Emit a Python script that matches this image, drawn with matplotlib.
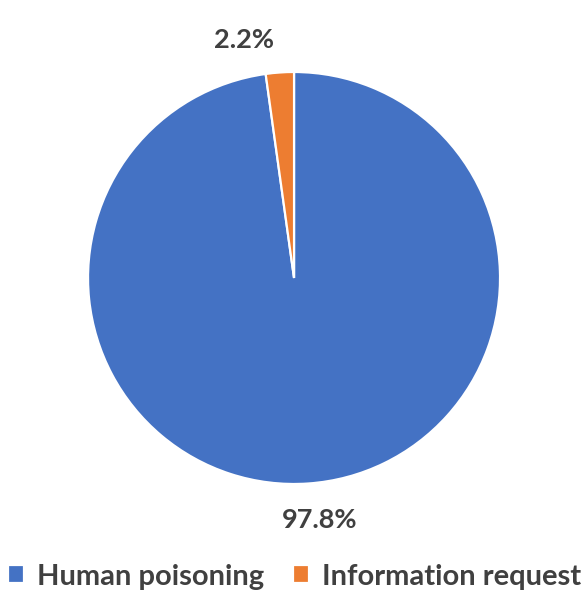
import numpy as np
import matplotlib.pyplot as plt

labels = ["Human poisoning", "Information request"]
values = [97.8, 2.2]
colors = ["#4472C4", "#ED7D31"]
text_color = "#404040"

plt.rcParams['font.family'] = ['Lato', 'DejaVu Sans']

fig = plt.figure(figsize=(5.83, 6.05), dpi=100)
ax = fig.add_axes([0.151, 0.2, 0.7067, 0.681])

wedges, _ = ax.pie(values, colors=colors, startangle=90, counterclock=False,
                   wedgeprops=dict(edgecolor='white', linewidth=1.6))
ax.set_xlim(-1, 1)
ax.set_ylim(-1, 1)
ax.set_aspect('equal')

# percentage labels just outside each slice
dists = [1.18, 1.18]
shifts = [2.0, 8.0]
for w, v, d, s in zip(wedges, values, dists, shifts):
    ang = np.deg2rad((w.theta1 + w.theta2) / 2 + s)
    ax.text(d * np.cos(ang), d * np.sin(ang), f"{v:.1f}%",
            ha='center', va='center', fontsize=19.5, fontweight='bold',
            color=text_color, clip_on=False)

leg = fig.legend(wedges, labels, loc='center', bbox_to_anchor=(0.505, 0.047),
                 ncol=2, frameon=False, fontsize=21, handlelength=0.55,
                 handleheight=0.55, handletextpad=0.45, columnspacing=1.0)
for t in leg.get_texts():
    t.set_color(text_color)
    t.set_fontweight('bold')

fig.savefig("out.png", dpi=100)
